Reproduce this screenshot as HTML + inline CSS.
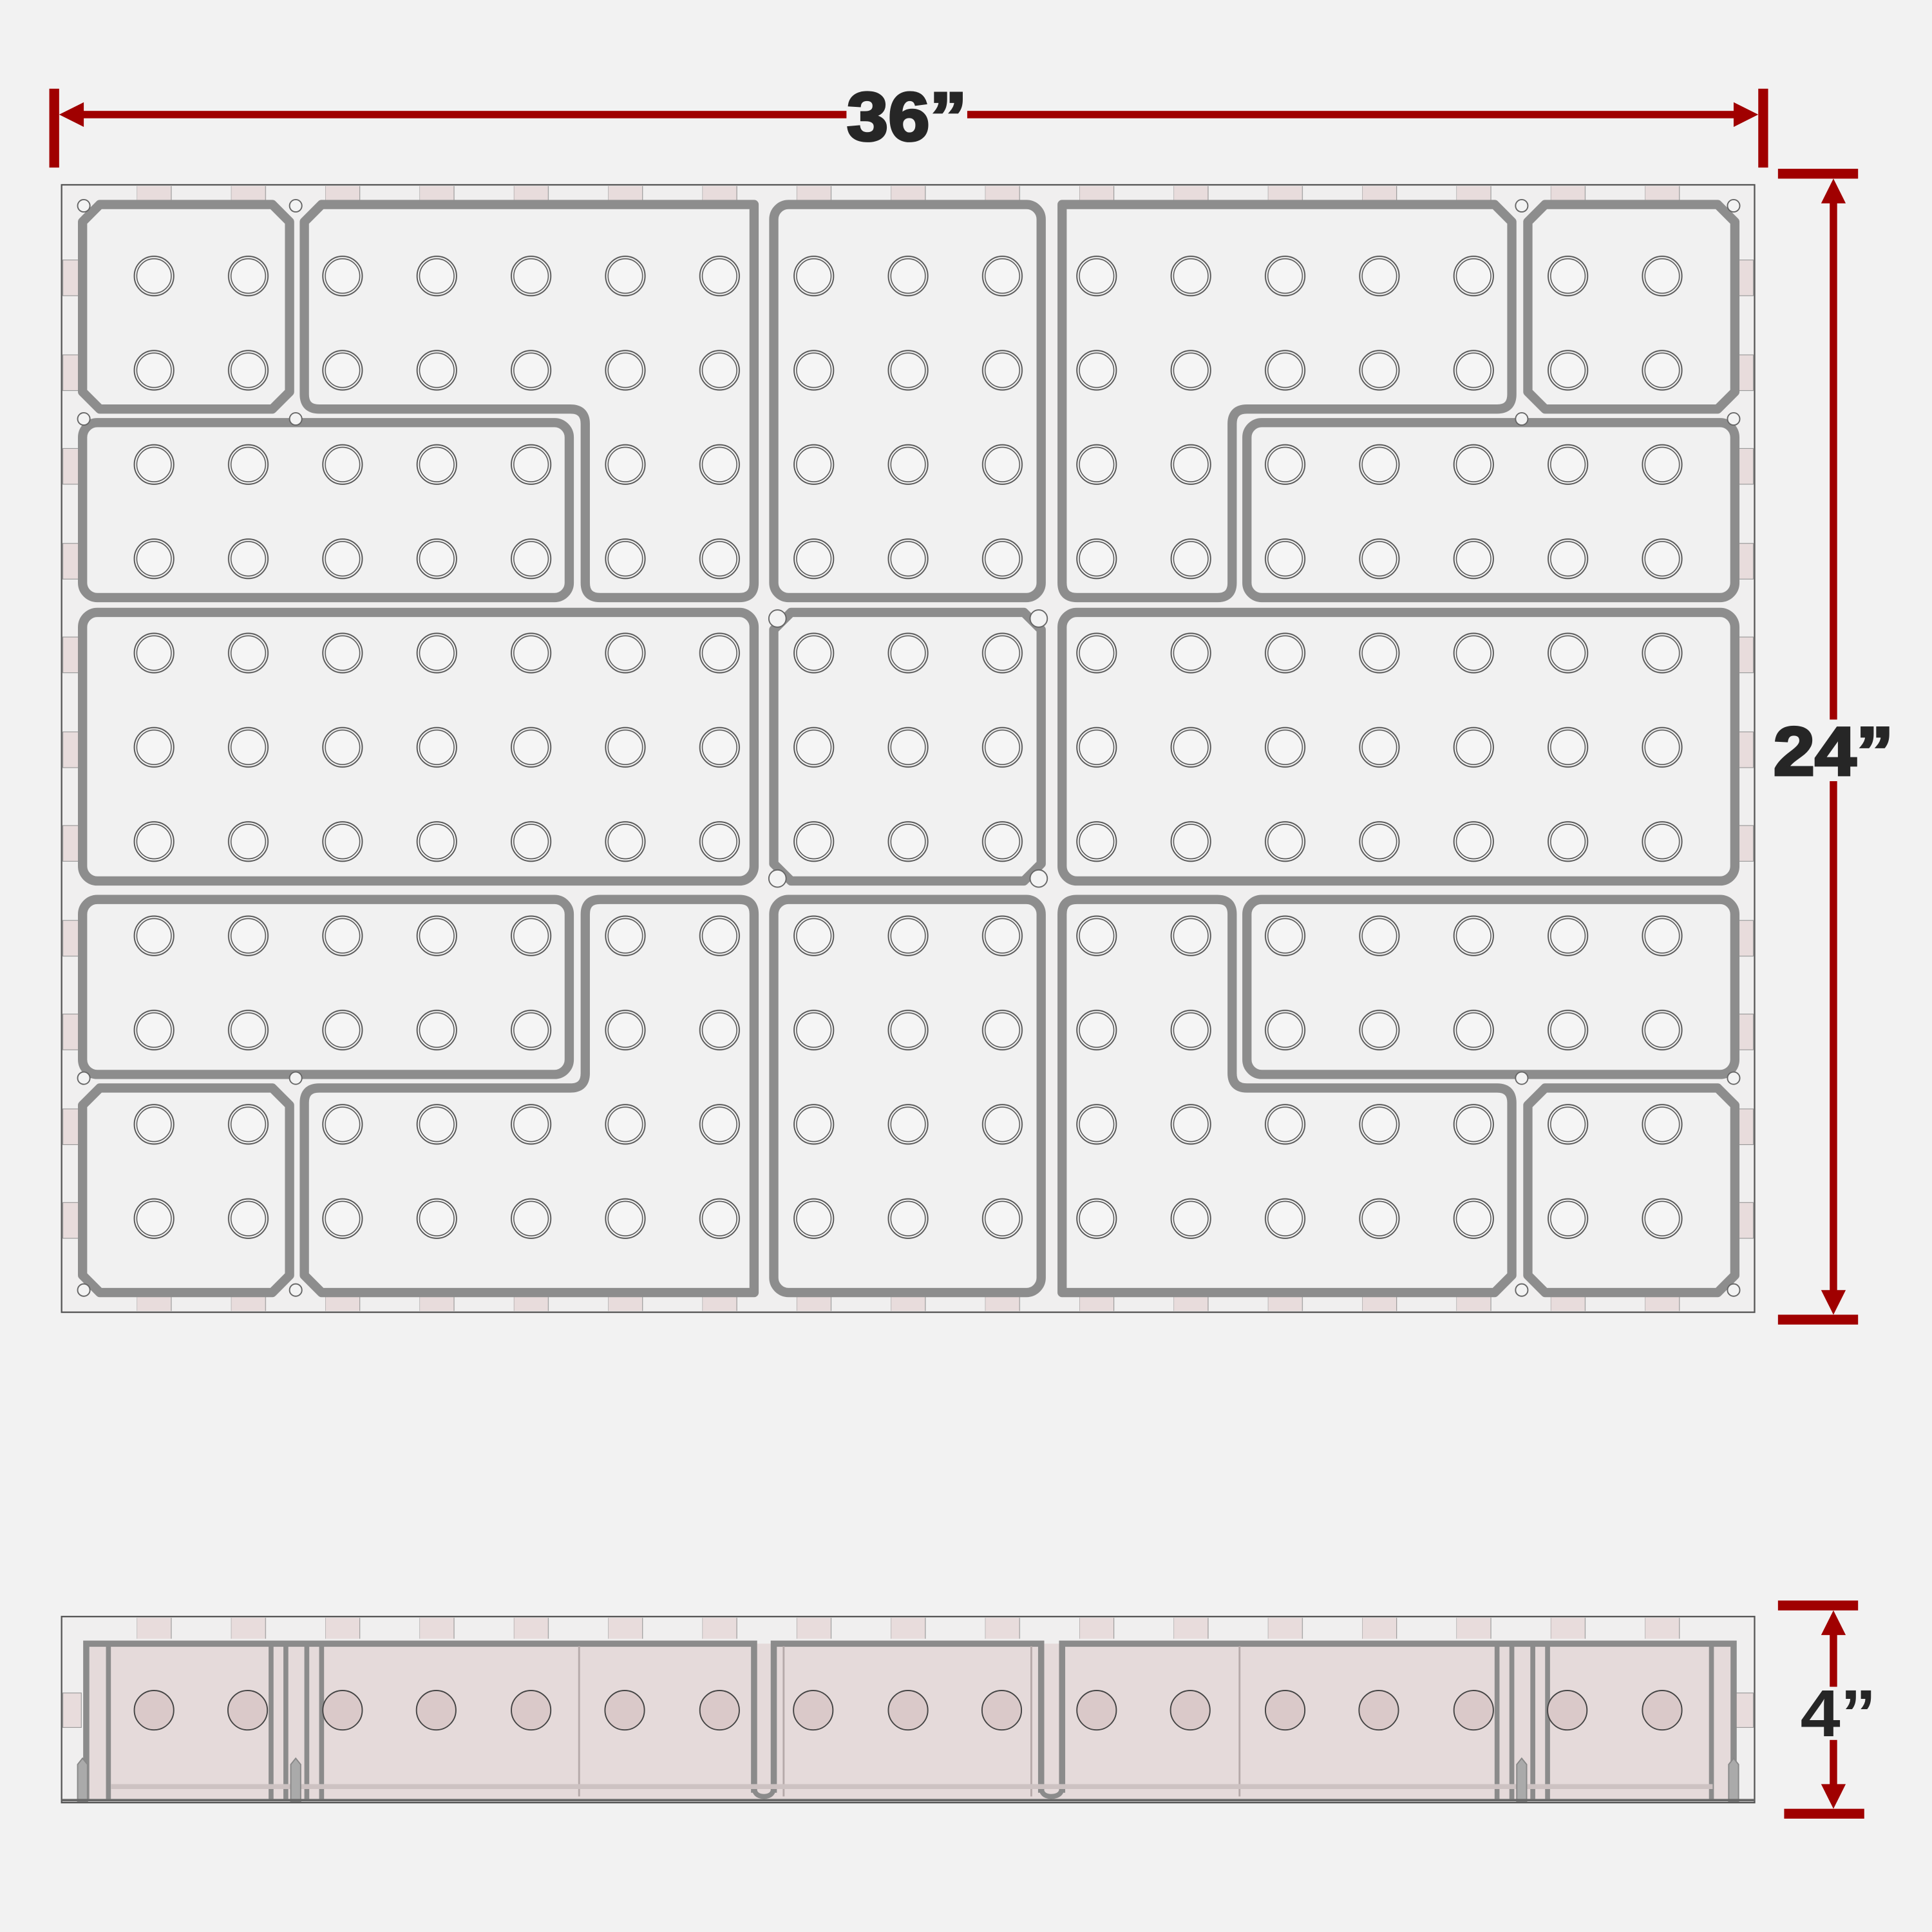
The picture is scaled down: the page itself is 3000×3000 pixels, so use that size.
<!DOCTYPE html>
<html><head><meta charset="utf-8"><style>html,body{margin:0;padding:0;background:#f2f2f2}svg{display:block}</style></head>
<body>
<svg width="3000" height="3000" viewBox="0 0 1568 1568" xmlns="http://www.w3.org/2000/svg">
<defs>
<pattern id="holes" x="86.75" y="185.75" width="76.5" height="76.5" patternUnits="userSpaceOnUse">
<circle cx="38.25" cy="38.25" r="16" fill="#f5f5f5" stroke="#555" stroke-width="1"/>
<circle cx="38.25" cy="38.25" r="14" fill="none" stroke="#555" stroke-width="0.8"/>
</pattern>
<pattern id="tabsH" x="111" y="0" width="76.5" height="1568" patternUnits="userSpaceOnUse">
<rect x="0" y="0" width="28" height="1568" fill="#e8dcdc" stroke="#999" stroke-width="0.6"/>
</pattern>
</defs>
<rect width="1568" height="1568" fill="#f2f2f2"/>

<!-- TOP VIEW -->
<rect x="50" y="150" width="1374" height="915" fill="#f0efef" stroke="#555" stroke-width="1.2"/>
<rect x="111" y="151" width="1270" height="14" fill="url(#tabsH)"/>
<rect x="111" y="1050" width="1270" height="14" fill="url(#tabsH)"/>
<g fill="#e8dcdc" stroke="#999" stroke-width="0.6">
<rect x="51" y="211" width="14" height="29"/><rect x="51" y="288" width="14" height="29"/><rect x="51" y="364" width="14" height="29"/><rect x="51" y="441" width="14" height="29"/><rect x="51" y="517" width="14" height="29"/><rect x="51" y="594" width="14" height="29"/><rect x="51" y="670" width="14" height="29"/><rect x="51" y="747" width="14" height="29"/><rect x="51" y="823" width="14" height="29"/><rect x="51" y="900" width="14" height="29"/><rect x="51" y="976" width="14" height="29"/>
<rect x="1409" y="211" width="14" height="29"/><rect x="1409" y="288" width="14" height="29"/><rect x="1409" y="364" width="14" height="29"/><rect x="1409" y="441" width="14" height="29"/><rect x="1409" y="517" width="14" height="29"/><rect x="1409" y="594" width="14" height="29"/><rect x="1409" y="670" width="14" height="29"/><rect x="1409" y="747" width="14" height="29"/><rect x="1409" y="823" width="14" height="29"/><rect x="1409" y="900" width="14" height="29"/><rect x="1409" y="976" width="14" height="29"/>
</g>

<g fill="#f1f1f1" stroke="#8d8d8d" stroke-width="7.5" stroke-linejoin="round">
<path d="M81,166 H221 L235,180 V318 L221,332 H81 L67,318 V180 Z"/>
<path d="M1254,166 H1394 L1408,180 V318 L1394,332 H1254 L1240,318 V180 Z"/>
<path d="M81,883 H221 L235,897 V1035 L221,1049 H81 L67,1035 V897 Z"/>
<path d="M1254,883 H1394 L1408,897 V1035 L1394,1049 H1254 L1240,1035 V897 Z"/>
<path d="M642,497 H831 L845,511 V701 L831,715 H642 L628,701 V511 Z"/>
<path d="M261,166 H612 V473 Q612,485 600,485 H487 Q475,485 475,473 V344 Q475,332 463,332 H259 Q247,332 247,320 V180 Z"/>
<path d="M862,166 H1213 L1227,180 V320 Q1227,332 1215,332 H1012 Q1000,332 1000,344 V473 Q1000,485 988,485 H874 Q862,485 862,473 V166 Z"/>
<path d="M261,1049 H612 V742 Q612,730 600,730 H487 Q475,730 475,742 V871 Q475,883 463,883 H259 Q247,883 247,895 V1035 Z"/>
<path d="M862,1049 H1213 L1227,1035 V895 Q1227,883 1215,883 H1012 Q1000,883 1000,871 V742 Q1000,730 988,730 H874 Q862,730 862,742 V1049 Z"/>
<rect x="67" y="343" width="395" height="142" rx="12"/>
<rect x="1012" y="343" width="396" height="142" rx="12"/>
<rect x="67" y="730" width="395" height="142" rx="12"/>
<rect x="1012" y="730" width="396" height="142" rx="12"/>
<rect x="628" y="166" width="217" height="319" rx="12"/>
<rect x="628" y="730" width="217" height="319" rx="12"/>
<rect x="67" y="497" width="545" height="218" rx="12"/>
<rect x="862" y="497" width="546" height="218" rx="12"/>
</g>
<rect x="86.75" y="185.75" width="1300.5" height="841.5" fill="url(#holes)"/>

<g fill="#f3f3f3" stroke="#666" stroke-width="1">
<circle cx="68" cy="167" r="5"/><circle cx="240" cy="167" r="5"/><circle cx="68" cy="340" r="5"/><circle cx="240" cy="340" r="5"/>
<circle cx="1235" cy="167" r="5"/><circle cx="1407" cy="167" r="5"/><circle cx="1235" cy="340" r="5"/><circle cx="1407" cy="340" r="5"/>
<circle cx="68" cy="875" r="5"/><circle cx="240" cy="875" r="5"/><circle cx="68" cy="1047" r="5"/><circle cx="240" cy="1047" r="5"/>
<circle cx="1235" cy="875" r="5"/><circle cx="1407" cy="875" r="5"/><circle cx="1235" cy="1047" r="5"/><circle cx="1407" cy="1047" r="5"/>
<circle cx="631" cy="502" r="7"/><circle cx="843" cy="502" r="7"/><circle cx="631" cy="713" r="7"/><circle cx="843" cy="713" r="7"/>
</g>

<!-- SIDE VIEW -->
<rect x="50" y="1312" width="1374" height="151" fill="#f0efef" stroke="#555" stroke-width="1.2"/>
<rect x="111" y="1313" width="1270" height="17" fill="url(#tabsH)"/>
<rect x="51" y="1374" width="15" height="28" fill="#e8dcdc" stroke="#999" stroke-width="0.6"/>
<rect x="1409" y="1374" width="14" height="28" fill="#e8dcdc" stroke="#999" stroke-width="0.6"/>
<rect x="70" y="1334" width="1337" height="126" fill="#e5dada"/>
<path d="M70,1460 V1334 H612 V1455 M628,1455 V1334 H845 V1455 M862,1455 V1334 H1407 V1460" fill="none" stroke="#8b8b8b" stroke-width="5"/>
<path d="M612,1450 Q612,1458 620,1458 Q628,1458 628,1450 M845,1450 Q845,1458 853,1458 Q862,1458 862,1450" fill="none" stroke="#8b8b8b" stroke-width="4"/>
<g stroke="#8b8b8b" stroke-width="4">
<line x1="88" y1="1336" x2="88" y2="1460"/><line x1="220" y1="1336" x2="220" y2="1460"/><line x1="232" y1="1336" x2="232" y2="1460"/><line x1="249" y1="1336" x2="249" y2="1460"/><line x1="261" y1="1336" x2="261" y2="1460"/>
<line x1="1215" y1="1336" x2="1215" y2="1460"/><line x1="1227" y1="1336" x2="1227" y2="1460"/><line x1="1244" y1="1336" x2="1244" y2="1460"/><line x1="1256" y1="1336" x2="1256" y2="1460"/><line x1="1389" y1="1336" x2="1389" y2="1460"/>
</g>
<g stroke="#b5a9a9" stroke-width="1.5"><line x1="470" y1="1336" x2="470" y2="1458"/><line x1="1006" y1="1336" x2="1006" y2="1458"/><line x1="636" y1="1336" x2="636" y2="1458"/><line x1="837" y1="1336" x2="837" y2="1458"/></g>
<line x1="90" y1="1450" x2="1390" y2="1450" stroke="#cdc2c2" stroke-width="4"/>
<g fill="#aaa" stroke="#888" stroke-width="1">
<path d="M63,1462 V1432 L67,1427 L71,1432 V1462 Z"/><path d="M236,1462 V1432 L240,1427 L244,1432 V1462 Z"/>
<path d="M1231,1462 V1432 L1235,1427 L1239,1432 V1462 Z"/><path d="M1403,1462 V1432 L1407,1427 L1411,1432 V1462 Z"/>
</g>
<line x1="50" y1="1461" x2="1424" y2="1461" stroke="#666" stroke-width="2"/>
<g fill="#dac9c9" stroke="#444" stroke-width="1">
<circle cx="125" cy="1388" r="16"/><circle cx="201" cy="1388" r="16"/><circle cx="278" cy="1388" r="16"/><circle cx="354" cy="1388" r="16"/><circle cx="431" cy="1388" r="16"/><circle cx="507" cy="1388" r="16"/><circle cx="584" cy="1388" r="16"/><circle cx="660" cy="1388" r="16"/><circle cx="737" cy="1388" r="16"/><circle cx="813" cy="1388" r="16"/><circle cx="890" cy="1388" r="16"/><circle cx="966" cy="1388" r="16"/><circle cx="1043" cy="1388" r="16"/><circle cx="1119" cy="1388" r="16"/><circle cx="1196" cy="1388" r="16"/><circle cx="1272" cy="1388" r="16"/><circle cx="1349" cy="1388" r="16"/>
</g>

<!-- DIMENSIONS -->
<g fill="#a00000" stroke="none">
<rect x="40" y="72" width="8" height="64"/><rect x="1427" y="72" width="8" height="64"/>
<rect x="58" y="90" width="1358" height="6"/>
<path d="M48,93 L68,83 L68,103 Z"/><path d="M1427,93 L1407,83 L1407,103 Z"/>
<rect x="1443" y="137" width="65" height="8"/><rect x="1443" y="1067" width="65" height="8"/>
<rect x="1485" y="160" width="6" height="892"/>
<path d="M1488,145 L1478,165 L1498,165 Z"/><path d="M1488,1067 L1478,1047 L1498,1047 Z"/>
<rect x="1443" y="1299" width="65" height="8"/><rect x="1448" y="1468" width="65" height="8"/>
<rect x="1485" y="1320" width="6" height="134"/>
<path d="M1488,1307 L1478,1327 L1498,1327 Z"/><path d="M1488,1468 L1478,1448 L1498,1448 Z"/>
</g>
<rect x="687" y="72" width="98" height="44" fill="#f2f2f2"/>
<rect x="1438" y="584" width="100" height="50" fill="#f2f2f2"/>
<g font-family="'Liberation Sans', 'DejaVu Sans', sans-serif" font-weight="bold" fill="#262626" text-anchor="middle" stroke="#262626" stroke-width="2">
<text x="0" y="0" font-size="56" transform="translate(736,114) scale(1.08,1)">36”</text>
<text x="0" y="0" font-size="56" transform="translate(1488,629) scale(1.08,1)">24”</text>
<text x="0" y="0" font-size="54" stroke="#f2f2f2" stroke-width="6" paint-order="stroke" transform="translate(1492,1409) scale(1.08,1)">4”</text>
</g>
</svg>
</body></html>
